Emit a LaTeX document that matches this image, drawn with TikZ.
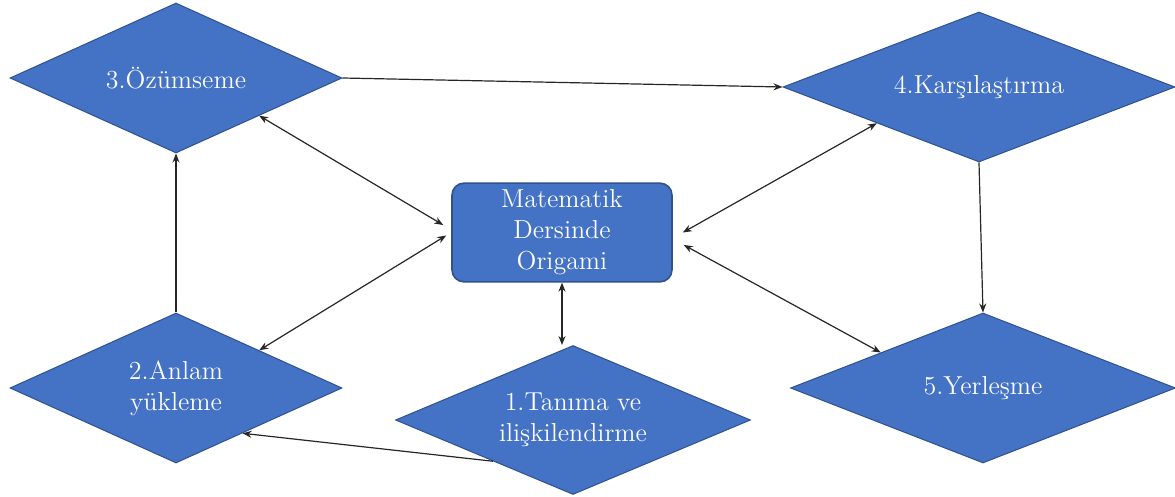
\documentclass[tikz,border=0pt]{standalone}
\usepackage{fontspec}
\usepackage{tikz}
\usetikzlibrary{arrows.meta,positioning,shapes.geometric,calc}

\definecolor{boxblue}{HTML}{4472C4}
\definecolor{edgeblue}{HTML}{2F528F}

\begin{document}
\begin{tikzpicture}[
    x=0.5pt, y=-0.5pt,
    stage/.style={diamond, aspect=2.2, draw=edgeblue, fill=boxblue, line width=0.5pt, inner sep=0pt, text=white, align=center, font=\fontsize{13}{15.5}\selectfont},
    core/.style={rectangle, draw=edgeblue, fill=boxblue, line width=0.8pt, rounded corners=6pt, minimum width=110pt, minimum height=47.5pt, text=white, align=center, font=\fontsize{13}{15.5}\selectfont},
    link/.style={-{Stealth[length=4.5pt,width=3.5pt]}, line width=0.6pt, black!85},
    both/.style={link, {Stealth[length=4.5pt,width=3.5pt]}-{Stealth[length=4.5pt,width=3.5pt]}}
]
\useasboundingbox (0,0) rectangle (1175,497);

% Nodes
\node[stage, minimum width=166pt, minimum height=75pt] (ozum) at (176,78) {3.Özümseme};
\node[stage, minimum width=196pt, minimum height=75pt] (kars) at (979,87) {4.Karşılaştırma};
\node[stage, minimum width=166pt, minimum height=75pt] (anlam) at (176,388) {2.Anlam\\yükleme};
\node[stage, minimum width=177.5pt, minimum height=74.5pt] (tanima) at (573,420) {1.Tanıma ve\\ilişkilendirme};
\node[stage, minimum width=192.5pt, minimum height=75pt] (yerles) at (983,388) {5.Yerleşme};
\node[core] (origami) at (562,232.5) {Matematik\\Dersinde\\Origami};

% Arrows
\draw[link] (ozum.east) -- (kars.west);
\draw[link] (kars.south) -- (yerles.north);
\draw[link] (anlam.north) -- (ozum.south);
\draw[link] ($(tanima.west)!0.55!(tanima.south)$) -- ($(anlam.east)!0.6!(anlam.south)$);

\draw[both] ($(ozum.east)!0.5!(ozum.south)$) -- ($(origami.west)+(-8,-7.5)$);
\draw[both] ($(anlam.north)!0.5!(anlam.east)$) -- ($(origami.west)+(-5,3)$);
\draw[both] (origami.south) -- (origami.south |- tanima.north);
\draw[both] ($(origami.east)+(10,0)$) -- ($(kars.west)!0.48!(kars.south)$);
\draw[both] ($(origami.east)+(11,12.5)$) -- ($(yerles.west)!0.47!(yerles.north)$);
\end{tikzpicture}
\end{document}
